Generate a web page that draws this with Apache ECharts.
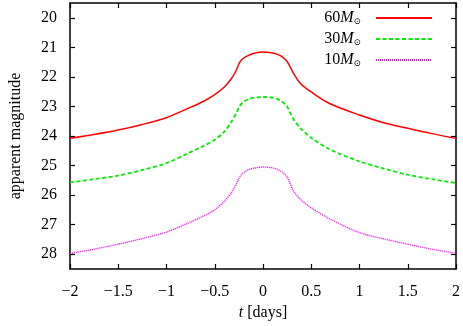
<!DOCTYPE html>
<html><head><meta charset="utf-8">
<script src="https://cdn.jsdelivr.net/npm/echarts@6/dist/echarts.min.js"></script>
<style>html,body{margin:0;padding:0;background:#fff}#c{width:463px;height:326px}</style>
</head><body><div id="c"></div>
<script>
const tDays = [-2,-1.75,-1.5,-1.25,-1,-0.8,-0.63,-0.5,-0.4,-0.33,-0.28,-0.24,-0.2,-0.15,-0.1,0,0.1,0.15,0.2,0.25,0.28,0.32,0.39,0.5,0.69,1,1.25,1.5,1.75,2];
const mag60 = [24.08,23.95,23.80,23.61,23.38,23.10,22.85,22.60,22.34,22.07,21.80,21.50,21.36,21.27,21.21,21.16,21.19,21.24,21.32,21.48,21.65,21.90,22.23,22.51,22.90,23.29,23.55,23.74,23.92,24.08];
const mag30 = [25.57,25.46,25.34,25.15,24.92,24.62,24.36,24.13,23.85,23.53,23.25,22.98,22.84,22.76,22.71,22.68,22.70,22.75,22.84,23.00,23.20,23.45,23.74,24.06,24.45,24.86,25.10,25.31,25.46,25.59];
const mag10 = [27.97,27.83,27.66,27.47,27.25,26.98,26.73,26.50,26.20,25.93,25.65,25.38,25.24,25.14,25.09,25.05,25.08,25.13,25.22,25.38,25.60,25.88,26.15,26.43,26.80,27.27,27.48,27.66,27.83,27.97];
const yTicks = [20,21,22,23,24,25,26,27,28];
const seriesNames = ['60M', '30M', '10M'];

const FONT = '"Liberation Serif", "DejaVu Serif", serif';
const pair = (ys) => tDays.map((t, i) => [t, ys[i]]);
const fmtX = v => String(v).replace('-', '\u2212');

const axisLine = { show: true, onZero: false, lineStyle: { color: '#000', width: 1.5 } };
const tick = { show: true, inside: true, length: 5, lineStyle: { color: '#000', width: 1.2 } };

const chart = echarts.init(document.getElementById('c'), null, { renderer: 'canvas' });
chart.setOption({
  animation: false,
  backgroundColor: '#fff',
  grid: { left: 66, right: 5, top: 3, bottom: 56, containLabel: false },
  legend: {
    orient: 'vertical', right: 30, top: 10, padding: 0, align: 'right',
    itemWidth: 56, itemHeight: 14, itemGap: 5,
    itemStyle: { opacity: 0 },
    data: seriesNames,
    formatter: n => n.replace('M', '') + '{i|M}{s|\u2299}',
    textStyle: {
      fontFamily: FONT, fontSize: 16, color: '#000', padding: [0, 10, 0, 0],
      rich: {
        i: { fontFamily: FONT, fontStyle: 'italic', fontSize: 16 },
        s: { fontFamily: FONT, fontSize: 9, verticalAlign: 'bottom', padding: [7,0,0,0] }
      }
    }
  },
  xAxis: [
    { type: 'value', min: -2, max: 2, interval: 0.5, position: 'bottom',
      axisLine, axisTick: tick, splitLine: { show: false },
      axisLabel: { formatter: fmtX, fontFamily: FONT, fontSize: 16, color: '#000', margin: 15 },
      name: '{i|t} [days]', nameLocation: 'middle', nameGap: 36,
      nameTextStyle: { fontFamily: FONT, fontSize: 16, color: '#000',
        rich: { i: { fontFamily: FONT, fontStyle: 'italic', fontSize: 16 } } } },
    { type: 'value', min: -2, max: 2, interval: 0.5, position: 'top',
      axisLine, axisTick: tick, splitLine: { show: false }, axisLabel: { show: false } }
  ],
  yAxis: [
    { type: 'value', min: 19.5, max: 28.5, inverse: true, position: 'left',
      axisLine, axisTick: Object.assign({ customValues: yTicks }, tick), splitLine: { show: false },
      axisLabel: { customValues: yTicks, fontFamily: FONT, fontSize: 16, color: '#000', margin: 13 },
      name: 'apparent magnitude', nameLocation: 'middle', nameGap: 46,
      nameTextStyle: { fontFamily: FONT, fontSize: 16, color: '#000' } },
    { type: 'value', min: 19.5, max: 28.5, inverse: true, position: 'right',
      axisLine, axisTick: Object.assign({ customValues: yTicks }, tick), splitLine: { show: false },
      axisLabel: { show: false } }
  ],
  series: [
    { name: seriesNames[0], type: 'line', data: pair(mag60), smooth: 0.3, symbol: 'none',
      lineStyle: { color: '#ff0000', width: 1.5 }, itemStyle: { color: '#ff0000' } },
    { name: seriesNames[1], type: 'line', data: pair(mag30), smooth: 0.3, symbol: 'none',
      lineStyle: { color: '#00ee00', width: 1.8, type: [4, 2.5] }, itemStyle: { color: '#00ee00' } },
    { name: seriesNames[2], type: 'line', data: pair(mag10), smooth: 0.3, symbol: 'none',
      lineStyle: { color: '#ff00ff', width: 1.4, type: [1, 1] }, itemStyle: { color: '#ff00ff' } }
  ]
});
</script></body></html>
